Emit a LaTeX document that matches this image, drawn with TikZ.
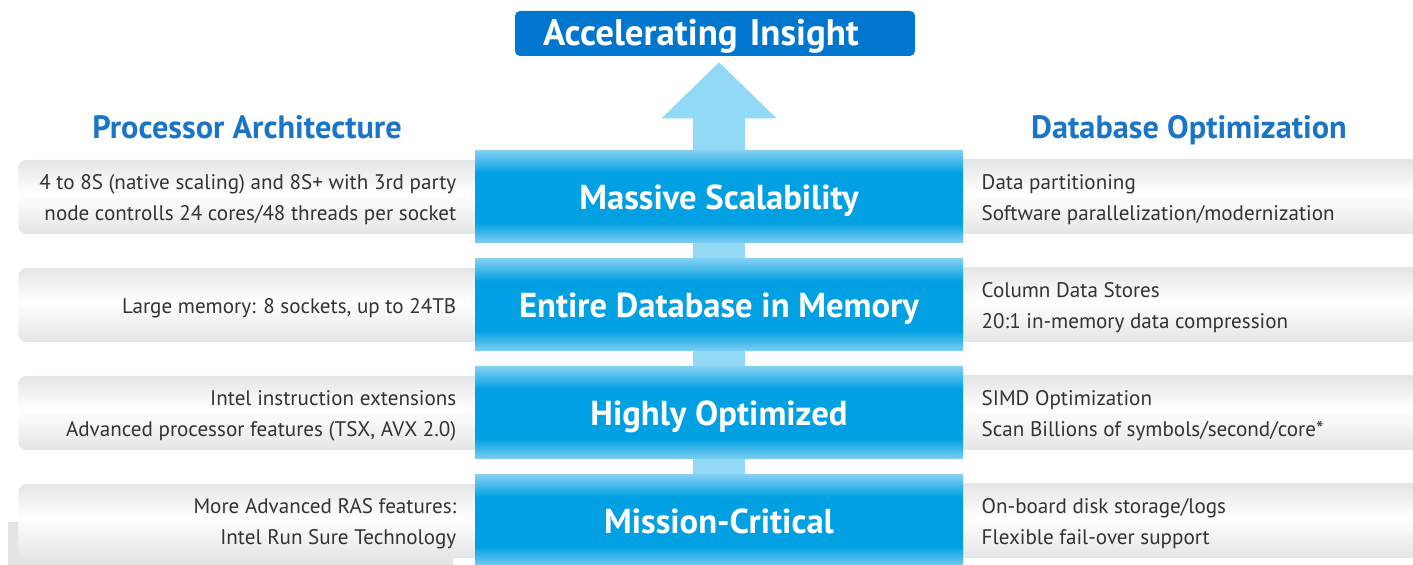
\documentclass[tikz,border=0pt]{standalone}
\usepackage{fontspec}
\setmainfont{PT Sans}
\usepackage{tikz}
\usetikzlibrary{arrows.meta,backgrounds,calc}
\definecolor{titleblue}{RGB}{0,118,206}
\definecolor{headblue}{RGB}{27,117,199}
\definecolor{arrowblue}{RGB}{146,217,246}
\definecolor{barlite}{RGB}{128,207,242}
\definecolor{barcore}{RGB}{0,160,226}
\definecolor{grayedge}{RGB}{228,229,230}
\definecolor{textgray}{RGB}{51,51,51}
\pgfdeclareverticalshading{bluebar}{100bp}{color(0bp)=(barlite); color(25bp)=(barlite); color(36bp)=(barcore); color(63bp)=(barcore); color(75bp)=(barlite); color(100bp)=(barlite)}
\pgfdeclareverticalshading{graybar}{100bp}{color(0bp)=(grayedge); color(25bp)=(grayedge); color(52bp)=(white); color(75bp)=(grayedge); color(100bp)=(grayedge)}

\begin{document}
\begin{tikzpicture}[
    bar/.style={shade, shading=bluebar, minimum width=9.76cm, minimum height=1.84cm, inner sep=0pt, text height=13.8pt, text depth=0pt, text=white, font=\bfseries\fontsize{19.7}{23}\selectfont},
    leftbox/.style={shade, shading=graybar, rounded corners=0.16cm, minimum width=9.52cm, minimum height=1.48cm, inner sep=0pt, anchor=east},
    rightbox/.style={shade, shading=graybar, minimum width=9.74cm, minimum height=1.48cm, inner sep=0pt, anchor=west},
    lefttext/.style={align=right, inner sep=0pt, anchor=east, yshift=-0.06cm, text=textgray, font=\fontsize{12}{17.6}\selectfont},
    righttext/.style={align=left, inner sep=0pt, anchor=west, yshift=-0.06cm, text=textgray, font=\fontsize{12}{17.6}\selectfont},
    header/.style={text=headblue, anchor=base, font=\bfseries\fontsize{18.4}{22}\selectfont},
    titlebox/.style={fill=titleblue, rounded corners=0.1cm, text width=6.88cm, inner xsep=0.56cm, minimum height=0.9cm, text depth=1pt, align=left, text=white, font=\bfseries\fontsize{21}{24}\selectfont},
    uparrow/.style={arrowblue, line width=1.04cm, -{Triangle[width=2.3cm, length=1.12cm, line width=0pt]}}
]
    \useasboundingbox (0,0) rectangle (28.26,11.3);

    % Title on top
    \node[titlebox] (ai) at (14.30,10.63) {Accelerating Insight};

    % Column headers
    \node[header] (pa) at (4.94,8.52) {Processor Architecture};
    \node[header] (dbo) at (23.78,8.52) {Database Optimization};

    % The four blue bars
    \node[bar] (ms) at (14.38,7.36) {Massive Scalability};
    \node[bar] (ed) at (14.38,5.20) {Entire Database in Memory};
    \node[bar] (ho) at (14.38,3.04) {Highly Optimized};
    \node[bar] (mc) at (14.38,0.88) {Mission-Critical};

    % Left texts
    \node[lefttext] (pa1) at ([xshift=-0.36cm]ms.west) {4 to 8S (native scaling) and 8S+ with 3rd party\\node controlls 24 cores/48 threads per socket};
    \node[lefttext] (pa2) at ([xshift=-0.36cm]ed.west) {Large memory: 8 sockets, up to 24TB};
    \node[lefttext] (pa3) at ([xshift=-0.36cm]ho.west) {Intel instruction extensions\\Advanced processor features (TSX, AVX 2.0)};
    \node[lefttext] (pa4) at ([xshift=-0.36cm]mc.west) {More Advanced RAS features:\\Intel Run Sure Technology};

    % Right texts
    \node[righttext] (dbo1) at ([xshift=0.36cm]ms.east) {Data partitioning\\Software parallelization/modernization};
    \node[righttext] (dbo2) at ([xshift=0.36cm]ed.east) {Column Data Stores\\20:1 in-memory data compression};
    \node[righttext] (dbo3) at ([xshift=0.36cm]ho.east) {SIMD Optimization\\Scan Billions of symbols/second/core*};
    \node[righttext] (dbo4) at ([xshift=0.36cm]mc.east) {On-board disk storage/logs\\Flexible fail-over support};

    \begin{scope}[on background layer]
        % Big arrow behind the bars
        \draw[uparrow] (mc.center) -- ($(ms.north |- ai.south)+(0,-0.12)$);
        % Stray strip at the bottom left
        \fill[grayedge] (0.16,0) rectangle (9.06,0.86);
        % Gray boxes behind the texts
        \node[leftbox] (lb1) at ([xshift=0.4cm]ms.west) {};
        \node[leftbox] (lb2) at ([xshift=0.4cm]ed.west) {};
        \node[leftbox] (lb3) at ([xshift=0.4cm]ho.west) {};
        \node[leftbox] (lb4) at ([xshift=0.4cm]mc.west) {};
        \node[rightbox] (rb1) at ([xshift=-0.4cm]ms.east) {};
        \node[rightbox] (rb2) at ([xshift=-0.4cm]ed.east) {};
        \node[rightbox] (rb3) at ([xshift=-0.4cm]ho.east) {};
        \node[rightbox] (rb4) at ([xshift=-0.4cm]mc.east) {};
    \end{scope}
\end{tikzpicture}
\end{document}
